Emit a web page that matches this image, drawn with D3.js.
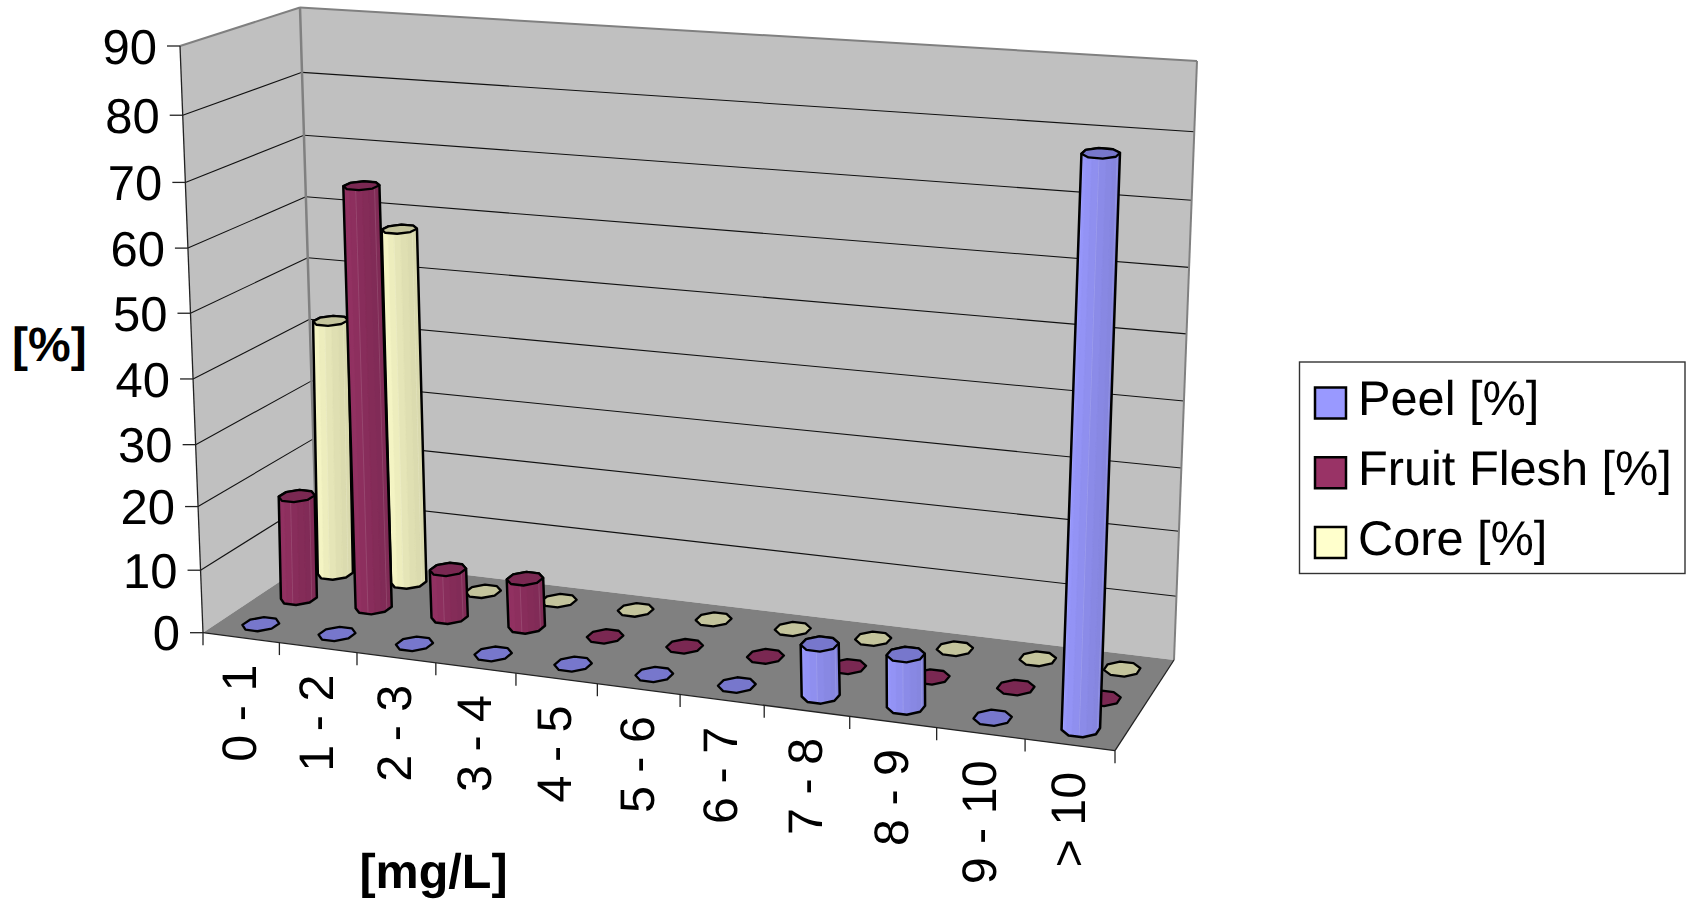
<!DOCTYPE html>
<html>
<head>
<meta charset="utf-8">
<script src="https://cdn.jsdelivr.net/npm/d3@7"></script>
<style>
html,body{margin:0;padding:0;background:#fff;overflow:hidden}
text{font-family:"Liberation Sans",Arial,sans-serif;fill:#000;text-rendering:geometricPrecision}
</style>
</head>
<body>
<svg id="chart" width="1687" height="906"></svg>
<script>
const categories = ["0 - 1","1 - 2","2 - 3","3 - 4","4 - 5","5 - 6","6 - 7","7 - 8","8 - 9","9 - 10","> 10"];
const seriesNames = ["Peel [%]","Fruit Flesh [%]","Core [%]"];
const peel  = [0,0,0,0,0,0,0,7.9,7.9,0,83];
const flesh = [16.7,67,7.7,7.7,0,0,0,0,0,0,0];
const core  = [41.8,57.5,0,0,0,0,0,0,0,0,0];
const yTicks = [0,10,20,30,40,50,60,70,80,90];
const yTickFractions = [0,.1065,.2150,.3205,.4325,.5445,.6555,.7675,.8820,1];
const xTitle = "[mg/L]";
const yTitle = "[%]";

const seriesStyles = [
  {name:seriesNames[0], values:peel,  light:"#9999FF", dark:"#8585DE", cap:"#7777CC"},
  {name:seriesNames[1], values:flesh, light:"#993366", dark:"#802B56", cap:"#7A2852"},
  {name:seriesNames[2], values:core,  light:"#FFFFCC", dark:"#DADAAE", cap:"#C4C49C"}
];

// scene frame corners: [front-left, front-right, back-right, back-left]
const floorQuad  = [[203,632.7],[1115,750.7],[1174,660],[317,557]];
const topQuad    = [[180,46],[1137,115],[1197,61],[300,7.5]];
const barTopQuad = [[190,46],[1146,115],[1197,61],[310,7.5]];

function homography(q){
  const [[x0,y0],[x1,y1],[x2,y2],[x3,y3]] = q;
  const dx1=x1-x2, dx2=x3-x2, dx3=x0-x1+x2-x3;
  const dy1=y1-y2, dy2=y3-y2, dy3=y0-y1+y2-y3;
  const den=dx1*dy2-dx2*dy1;
  const g=(dx3*dy2-dx2*dy3)/den, h=(dx1*dy3-dx3*dy1)/den;
  const a=x1-x0+g*x1, b=x3-x0+h*x3, d=y1-y0+g*y1, e=y3-y0+h*y3;
  return (u,w)=>{const k=g*u+h*w+1; return [(a*u+b*w+x0)/k,(d*u+e*w+y0)/k];};
}
const floorH = homography(floorQuad), topH = homography(topQuad), barTopH = homography(barTopQuad);

const xBand = d3.scaleBand().domain(categories).range([0,1]);
const depth = d3.scalePoint().domain(seriesNames).range([1/6,5/6]);
const yFrac = d3.scaleLinear().domain(yTicks).range(yTickFractions);

function lift(H,u,w,val){
  const a=floorH(u,w), b=H(u,w), t=yFrac(val);
  return [a[0]+(b[0]-a[0])*t, a[1]+(b[1]-a[1])*t];
}
const P  = (u,w,val)=>lift(topH,u,w,val);
const PB = (u,w,val)=>lift(barTopH,u,w,val);
const pathOf = pts => "M"+pts.map(p=>p[0].toFixed(2)+","+p[1].toFixed(2)).join("L")+"Z";
const line2 = d3.line();

const svg = d3.select("#chart");
const wallFill="#C0C0C0", floorFill="#808080", edge="#808080";

// walls
svg.append("path").attr("d",pathOf([P(0,0,0),P(0,0,90),P(0,1,90),P(0,1,0)])).attr("fill",wallFill);
svg.append("path").attr("d",pathOf([P(0,1,0),P(0,1,90),P(1,1,90),P(1,1,0)])).attr("fill",wallFill);
// floor
svg.append("path").attr("d",pathOf([P(0,0,0),P(1,0,0),P(1,1,0),P(0,1,0)])).attr("fill",floorFill);

// gridlines
const grid = yTicks.filter(v=>v>0 && v<90);
const gridG = svg.append("g").attr("stroke","#111").attr("stroke-width",1.1).attr("fill","none");
grid.forEach(v=>{
  gridG.append("path").attr("d",line2([P(0,0,v),P(0,1,v)]));
  gridG.append("path").attr("d",line2([P(0,1,v),P(1,1,v)]));
});

// frame edges
const edgeG = svg.append("g").attr("stroke",edge).attr("stroke-width",2).attr("fill","none");
edgeG.append("path").attr("d",line2([P(0,1,0),P(0,1,90)])).attr("stroke-width",2.5);
edgeG.append("path").attr("d",line2([P(0,0,90),P(0,1,90)]));
edgeG.append("path").attr("d",line2([P(0,1,90),P(1,1,90)]));
edgeG.append("path").attr("d",line2([P(1,1,90),P(1,1,0)]));

// axis lines
const axG = svg.append("g").attr("stroke","#222").attr("stroke-width",1.3).attr("fill","none");
axG.append("path").attr("d",line2([P(0,0,0),P(0,0,90)]));
axG.append("path").attr("d",line2([P(0,0,0),P(1,0,0)]));
axG.append("path").attr("d",line2([P(1,0,0),P(1,1,0)]));

// y ticks + labels
yTicks.forEach(v=>{
  const p=P(0,0,v);
  axG.append("path").attr("d",line2([[p[0]-13,p[1]],p]));
  svg.append("text").attr("x",p[0]-23).attr("y",p[1]).attr("dy","0.36em")
    .attr("text-anchor","end").attr("font-size",49).text(v);
});

// x ticks + labels
const step = xBand.step();
d3.range(categories.length+1).forEach(i=>{
  const p=P(i*step,0,0);
  axG.append("path").attr("d",line2([p,[p[0],p[1]+12.5]]));
});
categories.forEach(c=>{
  const p=P(xBand(c)+step/2,0,0);
  svg.append("text")
    .attr("transform",`translate(${p[0]-2.5},${p[1]+27}) rotate(-90)`)
    .attr("dy","0.36em").attr("text-anchor","end").attr("font-size",48.5).text(c);
});

// cylinders
const ru=0.019, rw=0.085;
const angle=(k,n)=>(k+0.5)*2*Math.PI/n;
function ring(cu,cw,val,n,shrink){
  const c=PB(cu,cw,val), fc=floorH(cu,cw);
  return d3.range(n).map(k=>{
    const a=angle(k,n), u=cu+shrink*ru*Math.cos(a), w=cw+shrink*rw*Math.sin(a);
    return [c[0]+floorH(u,w)[0]-fc[0], PB(u,w,val)[1]];
  });
}
const barsG = svg.append("g");
[...seriesStyles].reverse().forEach(s=>{
  const cw=depth(s.name);
  const shade=d3.interpolateRgb(s.light,s.dark);
  categories.forEach((c,i)=>{
    const val=s.values[i], cu=xBand(c)+step/2;
    const g=barsG.append("g");
    const top=ring(cu,cw,val,8,1);
    if(val>0){
      const n=16, b=ring(cu,cw,0,n,0.96), t=ring(cu,cw,val,n,0.96);
      g.append("path").attr("d",pathOf(d3.polygonHull(b.concat(t)))).attr("fill",s.light);
      for(let k=0;k<n;k++){
        const next=(k+1)%n, mid=(k+1)*2*Math.PI/n;
        if(Math.sin(mid)>=0) continue;
        const col=shade((Math.cos(mid)+1)/2);
        g.append("path").attr("d",pathOf([b[k],b[next],t[next],t[k]]))
          .attr("fill",col).attr("stroke",col).attr("stroke-width",0.6);
        if(k%3===0) g.append("path").attr("d",line2([b[k],t[k]]))
          .attr("stroke","#fff").attr("stroke-opacity",0.12).attr("stroke-width",1);
      }
      const bo=ring(cu,cw,0,8,1);
      g.append("path").attr("d",pathOf(d3.polygonHull(bo.concat(top))))
        .attr("fill","none").attr("stroke","#000").attr("stroke-width",2.5).attr("stroke-linejoin","round");
    }
    g.append("path").attr("d",pathOf(top)).attr("fill",s.cap)
      .attr("stroke","#000").attr("stroke-width",2.3).attr("stroke-linejoin","round");
  });
});

// titles
svg.append("text").attr("x",433.5).attr("y",888).attr("text-anchor","middle")
  .attr("font-size",48.5).attr("font-weight","bold").text(xTitle);
svg.append("text").attr("x",12).attr("y",361)
  .attr("font-size",48).attr("font-weight","bold").text(yTitle);

// legend
const legend = svg.append("g");
legend.append("rect").attr("x",1299.5).attr("y",362).attr("width",385.5).attr("height",211.5)
  .attr("fill","#fff").attr("stroke","#333").attr("stroke-width",1.4);
const legY = d3.scalePoint().domain(seriesNames).range([403,542.5]);
seriesStyles.forEach(s=>{
  const y=legY(s.name);
  legend.append("rect").attr("x",1315).attr("y",y-15.5).attr("width",31).attr("height",31)
    .attr("fill",s.light).attr("stroke","#000").attr("stroke-width",2.5);
  legend.append("text").attr("x",1358).attr("y",y+12).attr("font-size",48.7).text(s.name);
});
</script>
</body>
</html>
